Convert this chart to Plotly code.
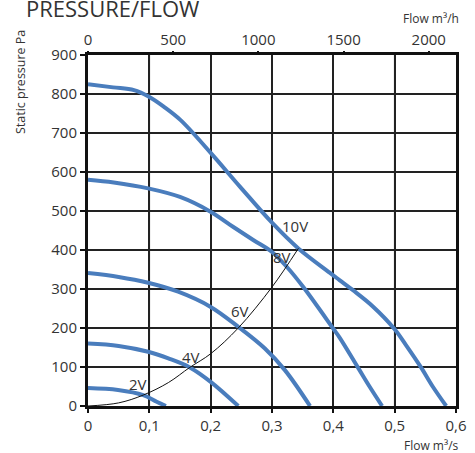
import plotly.graph_objects as go

# ---- data ----
flow_ticks = [0, 0.1, 0.2, 0.3, 0.4, 0.5, 0.6]
flow_tick_text = ["0", "0,1", "0,2", "0,3", "0,4", "0,5", "0,6"]
flow_h_ticks = [0, 500, 1000, 1500, 2000]
flow_h_text = ["0", "500", "1000", "1500", "2000"]
pressure_ticks = [0, 100, 200, 300, 400, 500, 600, 700, 800, 900]

v10_x = [0, 0.041, 0.075, 0.0995, 0.124, 0.151, 0.199, 0.248, 0.3, 0.343, 0.394, 0.41, 0.432,
         0.464, 0.5, 0.519, 0.543, 0.562, 0.584]
v10_p = [825, 817, 810, 793, 767, 733, 651, 562, 470, 404, 342, 323, 297,
         256, 197, 155, 99, 50, 0]

v8_x = [0, 0.042, 0.098, 0.15, 0.199, 0.237, 0.27, 0.3, 0.324, 0.351, 0.4, 0.41, 0.44, 0.459, 0.4795]
v8_p = [580, 573, 558, 536, 499, 459, 425, 395, 357, 305, 198, 176, 99, 50, 0]

v6_x = [0, 0.05, 0.098, 0.147, 0.2, 0.245, 0.288, 0.321, 0.362]
v6_p = [341, 331, 316, 293, 254, 203, 148, 92, 0]

v4_x = [0, 0.05, 0.098, 0.131, 0.166, 0.2, 0.245]
v4_p = [160, 154, 139, 122, 99, 62, 0]

v2_x = [0, 0.049, 0.09, 0.112, 0.127]
v2_p = [46, 41, 28, 11, 0]

sys_x = [0, 0.05, 0.09, 0.131, 0.166, 0.2, 0.245, 0.3, 0.343]
sys_p = [0, 8, 28, 60, 99, 134, 200, 305, 404]

label_text = ["2V", "4V", "6V", "8V", "10V"]
label_x = [0.082, 0.168, 0.248, 0.316, 0.338]
label_p = [56, 126, 244, 381, 462]

gray_grid_x = [0.1, 0.3, 0.5]

BLUE = "#4a7dbd"
TXT = "#333333"
FONT = "Open Sans"

fig = go.Figure()
for xs, ps in [(v10_x, v10_p), (v8_x, v8_p), (v6_x, v6_p), (v4_x, v4_p), (v2_x, v2_p)]:
    fig.add_trace(go.Scatter(x=xs, y=ps, mode="lines",
                             line=dict(color=BLUE, width=4, shape="spline", smoothing=1),
                             showlegend=False, hoverinfo="skip"))
fig.add_trace(go.Scatter(x=sys_x, y=sys_p, mode="lines",
                         line=dict(color="#111111", width=1, shape="spline", smoothing=1),
                         showlegend=False, hoverinfo="skip"))
# dummy trace so the top (m3/h) axis is drawn
fig.add_trace(go.Scatter(x=[0], y=[0], xaxis="x2", mode="markers",
                         marker=dict(opacity=0), showlegend=False, hoverinfo="skip"))

for v in gray_grid_x:
    fig.add_shape(type="line", x0=v, x1=v, y0=0, y1=1, xref="x", yref="paper",
                  line=dict(color="#8c8c8c", width=1.6), layer="below")

annots = []
for t, x, p in zip(label_text, label_x, label_p):
    annots.append(dict(x=x, y=p, xref="x", yref="y", text=t, showarrow=False,
                       font=dict(size=15, color=TXT, family=FONT)))

def px_x(px):
    return (px - 88) / 368.0

def px_y(py):
    return (406 - py) / 351.0

annots.append(dict(x=px_x(24), y=px_y(25), xref="paper", yref="paper", text="PRESSURE/FLOW",
                   showarrow=False, xanchor="left", yanchor="bottom",
                   font=dict(size=22, color=TXT, family=FONT)))
annots.append(dict(x=px_x(461), y=px_y(18), xref="paper", yref="paper", text="Flow m³/h",
                   showarrow=False, xanchor="right", yanchor="middle",
                   font=dict(size=12, color=TXT, family=FONT)))
annots.append(dict(x=px_x(461), y=px_y(446), xref="paper", yref="paper", text="Flow m³/s",
                   showarrow=False, xanchor="right", yanchor="middle",
                   font=dict(size=12, color=TXT, family=FONT)))
annots.append(dict(x=px_x(21), y=px_y(82), xref="paper", yref="paper", text="Static pressure Pa",
                   showarrow=False, xanchor="center", yanchor="middle", textangle=-90,
                   font=dict(size=12.5, color=TXT, family=FONT)))

fig.update_layout(
    width=475, height=453,
    margin=dict(l=88, r=19, t=55, b=47, autoexpand=False),
    paper_bgcolor="white", plot_bgcolor="white",
    font=dict(family=FONT, color=TXT),
    xaxis=dict(range=[0, 0.6], tickvals=flow_ticks, ticktext=flow_tick_text,
               ticks="outside", ticklen=4, tickwidth=1.5, tickcolor="#111",
               showline=True, linewidth=3, linecolor="#111", mirror=True,
               showgrid=True, gridcolor="#222", gridwidth=1.5, zeroline=False,
               automargin=False,
               tickfont=dict(size=15, color=TXT, family=FONT)),
    xaxis2=dict(range=[0, 2160], overlaying="x", side="top", tickvals=flow_h_ticks,
                ticktext=flow_h_text, ticks="outside", ticklen=3, tickwidth=1.5,
                tickcolor="#111", showline=False, showgrid=False, zeroline=False,
                automargin=False,
                tickfont=dict(size=15, color=TXT, family=FONT)),
    yaxis=dict(range=[0, 900], tickvals=pressure_ticks, ticks="outside", ticklen=5,
               tickwidth=1.5, tickcolor="#111", showline=True, linewidth=3,
               linecolor="#111", mirror=True, showgrid=True, gridcolor="#222",
               gridwidth=1.5, zeroline=False, automargin=False,
               tickfont=dict(size=15, color=TXT, family=FONT)),
    annotations=annots,
)

fig.write_html("out.html", config={"displayModeBar": False},
               post_script="document.body.style.margin='0';document.body.style.overflow='hidden';")
